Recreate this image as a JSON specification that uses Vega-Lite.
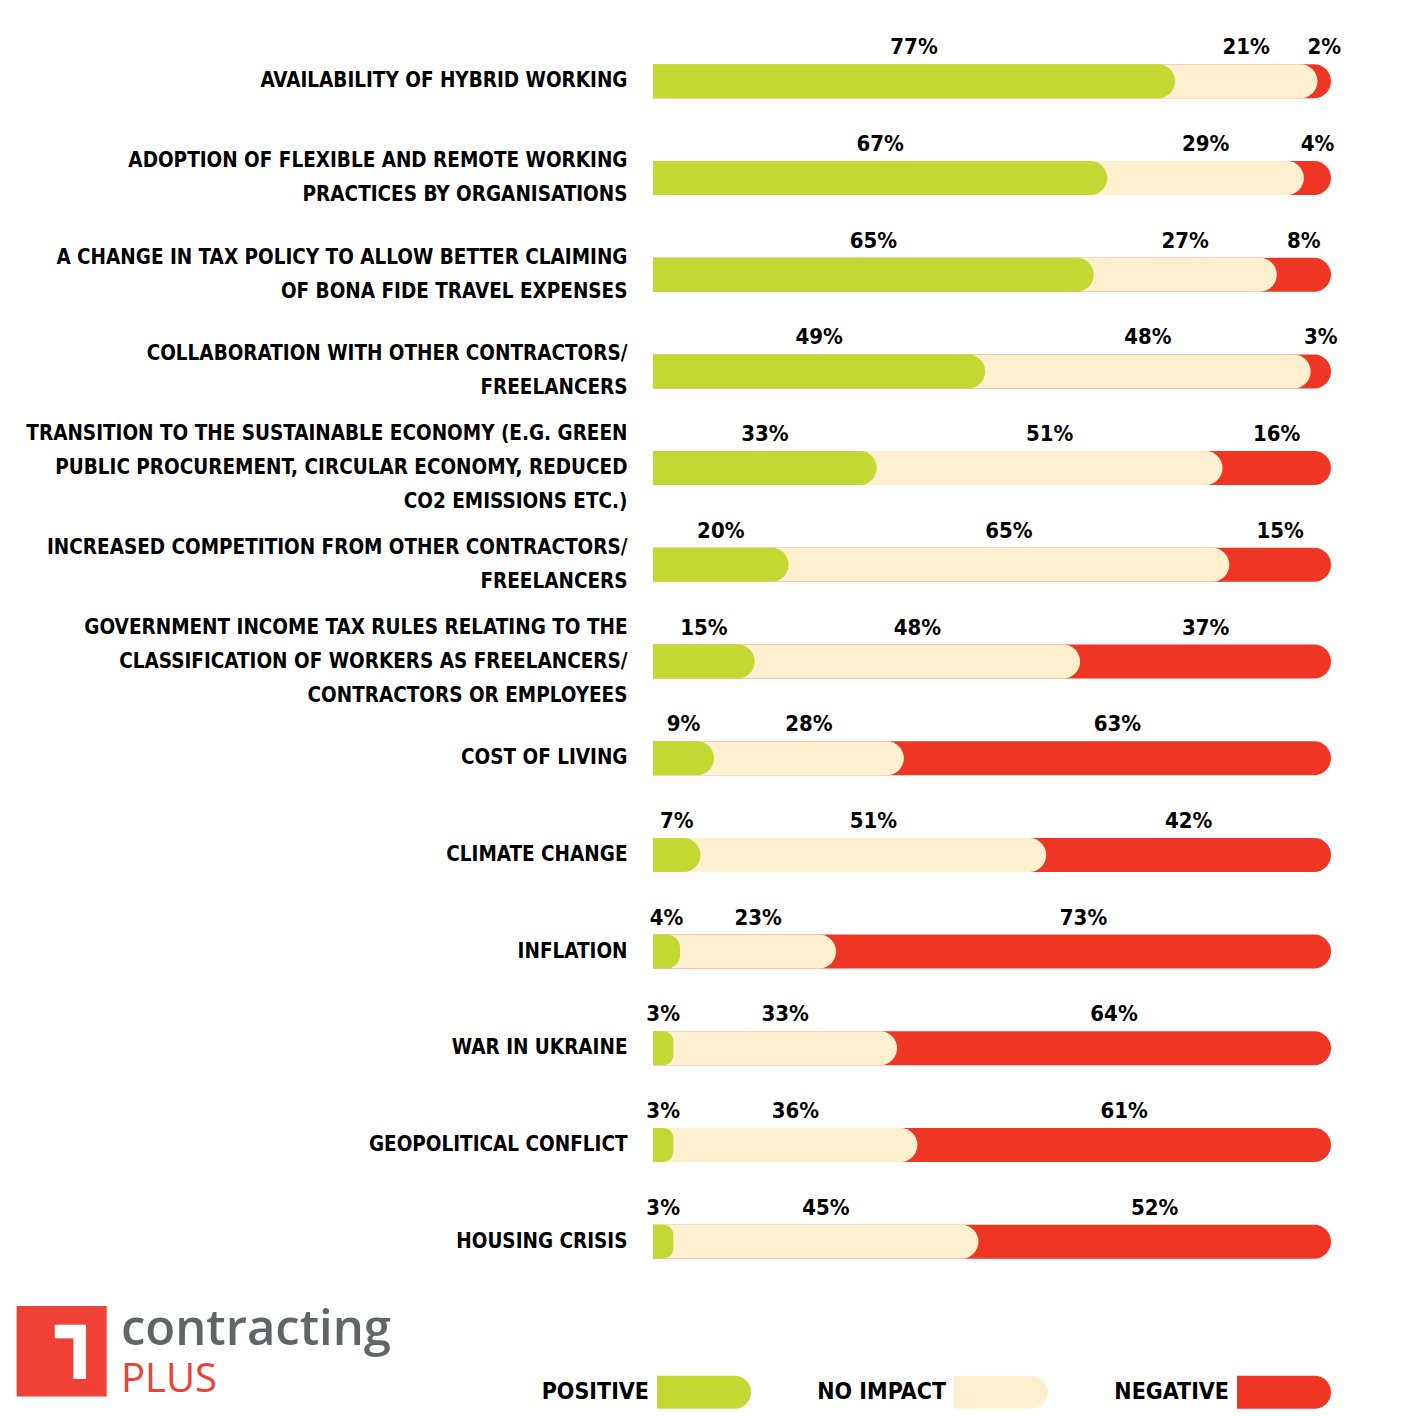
{
  "$schema": "https://vega.github.io/schema/vega-lite/v6.json",
  "width": 678,
  "height": 1257,
  "autosize": {"type": "none"},
  "padding": {"left": 653, "top": 33, "right": 94, "bottom": 126},
  "background": "white",
  "config": {"view": {"stroke": null}},
  "title": {
    "text": "contracting",
    "subtitle": "PLUS",
    "orient": "bottom",
    "anchor": "start",
    "frame": "group",
    "font": "Open Sans",
    "fontSize": 49,
    "fontWeight": 600,
    "color": "#5f6668",
    "subtitleFont": "Open Sans",
    "subtitleFontSize": 40,
    "subtitleColor": "#ee4136",
    "subtitlePadding": 5,
    "dx": -532,
    "dy": -103,
    "offset": 0
  },
  "data": {
    "values": [
      {"label": "AVAILABILITY OF HYBRID WORKING", "impact": "POSITIVE", "rank": 1, "pct": 77, "txt": "77%"},
      {"label": "AVAILABILITY OF HYBRID WORKING", "impact": "NO IMPACT", "rank": 2, "pct": 21, "txt": "21%"},
      {"label": "AVAILABILITY OF HYBRID WORKING", "impact": "NEGATIVE", "rank": 3, "pct": 2, "txt": "2%"},
      {"label": "ADOPTION OF FLEXIBLE AND REMOTE WORKING|PRACTICES BY ORGANISATIONS", "impact": "POSITIVE", "rank": 1, "pct": 67, "txt": "67%"},
      {"label": "ADOPTION OF FLEXIBLE AND REMOTE WORKING|PRACTICES BY ORGANISATIONS", "impact": "NO IMPACT", "rank": 2, "pct": 29, "txt": "29%"},
      {"label": "ADOPTION OF FLEXIBLE AND REMOTE WORKING|PRACTICES BY ORGANISATIONS", "impact": "NEGATIVE", "rank": 3, "pct": 4, "txt": "4%"},
      {"label": "A CHANGE IN TAX POLICY TO ALLOW BETTER CLAIMING|OF BONA FIDE TRAVEL EXPENSES", "impact": "POSITIVE", "rank": 1, "pct": 65, "txt": "65%"},
      {"label": "A CHANGE IN TAX POLICY TO ALLOW BETTER CLAIMING|OF BONA FIDE TRAVEL EXPENSES", "impact": "NO IMPACT", "rank": 2, "pct": 27, "txt": "27%"},
      {"label": "A CHANGE IN TAX POLICY TO ALLOW BETTER CLAIMING|OF BONA FIDE TRAVEL EXPENSES", "impact": "NEGATIVE", "rank": 3, "pct": 8, "txt": "8%"},
      {"label": "COLLABORATION WITH OTHER CONTRACTORS/|FREELANCERS", "impact": "POSITIVE", "rank": 1, "pct": 49, "txt": "49%"},
      {"label": "COLLABORATION WITH OTHER CONTRACTORS/|FREELANCERS", "impact": "NO IMPACT", "rank": 2, "pct": 48, "txt": "48%"},
      {"label": "COLLABORATION WITH OTHER CONTRACTORS/|FREELANCERS", "impact": "NEGATIVE", "rank": 3, "pct": 3, "txt": "3%"},
      {"label": "TRANSITION TO THE SUSTAINABLE ECONOMY (E.G. GREEN|PUBLIC PROCUREMENT, CIRCULAR ECONOMY, REDUCED|CO2 EMISSIONS ETC.)", "impact": "POSITIVE", "rank": 1, "pct": 33, "txt": "33%"},
      {"label": "TRANSITION TO THE SUSTAINABLE ECONOMY (E.G. GREEN|PUBLIC PROCUREMENT, CIRCULAR ECONOMY, REDUCED|CO2 EMISSIONS ETC.)", "impact": "NO IMPACT", "rank": 2, "pct": 51, "txt": "51%"},
      {"label": "TRANSITION TO THE SUSTAINABLE ECONOMY (E.G. GREEN|PUBLIC PROCUREMENT, CIRCULAR ECONOMY, REDUCED|CO2 EMISSIONS ETC.)", "impact": "NEGATIVE", "rank": 3, "pct": 16, "txt": "16%"},
      {"label": "INCREASED COMPETITION FROM OTHER CONTRACTORS/|FREELANCERS", "impact": "POSITIVE", "rank": 1, "pct": 20, "txt": "20%"},
      {"label": "INCREASED COMPETITION FROM OTHER CONTRACTORS/|FREELANCERS", "impact": "NO IMPACT", "rank": 2, "pct": 65, "txt": "65%"},
      {"label": "INCREASED COMPETITION FROM OTHER CONTRACTORS/|FREELANCERS", "impact": "NEGATIVE", "rank": 3, "pct": 15, "txt": "15%"},
      {"label": "GOVERNMENT INCOME TAX RULES RELATING TO THE|CLASSIFICATION OF WORKERS AS FREELANCERS/|CONTRACTORS OR EMPLOYEES", "impact": "POSITIVE", "rank": 1, "pct": 15, "txt": "15%"},
      {"label": "GOVERNMENT INCOME TAX RULES RELATING TO THE|CLASSIFICATION OF WORKERS AS FREELANCERS/|CONTRACTORS OR EMPLOYEES", "impact": "NO IMPACT", "rank": 2, "pct": 48, "txt": "48%"},
      {"label": "GOVERNMENT INCOME TAX RULES RELATING TO THE|CLASSIFICATION OF WORKERS AS FREELANCERS/|CONTRACTORS OR EMPLOYEES", "impact": "NEGATIVE", "rank": 3, "pct": 37, "txt": "37%"},
      {"label": "COST OF LIVING", "impact": "POSITIVE", "rank": 1, "pct": 9, "txt": "9%"},
      {"label": "COST OF LIVING", "impact": "NO IMPACT", "rank": 2, "pct": 28, "txt": "28%"},
      {"label": "COST OF LIVING", "impact": "NEGATIVE", "rank": 3, "pct": 63, "txt": "63%"},
      {"label": "CLIMATE CHANGE", "impact": "POSITIVE", "rank": 1, "pct": 7, "txt": "7%"},
      {"label": "CLIMATE CHANGE", "impact": "NO IMPACT", "rank": 2, "pct": 51, "txt": "51%"},
      {"label": "CLIMATE CHANGE", "impact": "NEGATIVE", "rank": 3, "pct": 42, "txt": "42%"},
      {"label": "INFLATION", "impact": "POSITIVE", "rank": 1, "pct": 4, "txt": "4%"},
      {"label": "INFLATION", "impact": "NO IMPACT", "rank": 2, "pct": 23, "txt": "23%"},
      {"label": "INFLATION", "impact": "NEGATIVE", "rank": 3, "pct": 73, "txt": "73%"},
      {"label": "WAR IN UKRAINE", "impact": "POSITIVE", "rank": 1, "pct": 3, "txt": "3%"},
      {"label": "WAR IN UKRAINE", "impact": "NO IMPACT", "rank": 2, "pct": 33, "txt": "33%"},
      {"label": "WAR IN UKRAINE", "impact": "NEGATIVE", "rank": 3, "pct": 64, "txt": "64%"},
      {"label": "GEOPOLITICAL CONFLICT", "impact": "POSITIVE", "rank": 1, "pct": 3, "txt": "3%"},
      {"label": "GEOPOLITICAL CONFLICT", "impact": "NO IMPACT", "rank": 2, "pct": 36, "txt": "36%"},
      {"label": "GEOPOLITICAL CONFLICT", "impact": "NEGATIVE", "rank": 3, "pct": 61, "txt": "61%"},
      {"label": "HOUSING CRISIS", "impact": "POSITIVE", "rank": 1, "pct": 3, "txt": "3%"},
      {"label": "HOUSING CRISIS", "impact": "NO IMPACT", "rank": 2, "pct": 45, "txt": "45%"},
      {"label": "HOUSING CRISIS", "impact": "NEGATIVE", "rank": 3, "pct": 52, "txt": "52%"}
    ]
  },
  "layer": [
    {
      "transform": [
        {"stack": "pct", "groupby": ["label"], "sort": [{"field": "rank", "order": "ascending"}], "as": ["v0", "v1"]}
      ],
      "mark": {"type": "bar", "height": 34, "cornerRadiusTopRight": 17, "cornerRadiusBottomRight": 17},
      "encoding": {
        "y": {
          "field": "label",
          "type": "nominal",
          "sort": null,
          "axis": {
            "title": "┓",
            "titleFont": "DejaVu Sans",
            "titleFontSize": 80,
            "titleFontWeight": "bold",
            "titleColor": "white",
            "titleAngle": 0,
            "titleAlign": "center",
            "titleBaseline": "middle",
            "titleX": -574,
            "titleY": 1301,
            "domain": false,
            "ticks": false,
            "grid": false,
            "labelExpr": "split(datum.label, '|')",
            "labelFont": "DejaVu Sans Condensed",
            "labelFontSize": 20.5,
            "labelFontWeight": "bold",
            "labelColor": "black",
            "labelPadding": 26,
            "labelLineHeight": 34,
            "labelLimit": 700,
            "labelOffset": {
              "condition": [
                {"test": "indexof(datum.value, '|') < 0", "value": 0},
                {"test": "length(split(datum.value, '|')) == 2", "value": -17}
              ],
              "value": -34
            }
          }
        },
        "x": {
          "field": "v1",
          "type": "quantitative",
          "stack": null,
          "scale": {"domain": [0, 100], "nice": false},
          "axis": {
            "labels": false,
            "ticks": false,
            "domain": false,
            "grid": false,
            "title": "■",
            "titleFont": "DejaVu Sans",
            "titleFontSize": 118,
            "titleFontWeight": "normal",
            "titleColor": "#ef4136",
            "titleAlign": "center",
            "titleBaseline": "middle",
            "titleX": -592,
            "titleY": 56
          }
        },
        "color": {
          "field": "impact",
          "type": "nominal",
          "scale": {"domain": ["POSITIVE", "NO IMPACT", "NEGATIVE"], "range": ["#c2d833", "#feefcf", "#ef3524"]},
          "legend": {
            "orient": "none",
            "legendX": 4,
            "legendY": 1312,
            "direction": "horizontal",
            "title": null,
            "symbolType": "M-1,-0.351H0.649A0.351,0.351 0 0 1 0.649,0.351H-1Z",
            "symbolSize": 8836,
            "symbolStrokeWidth": 0,
            "symbolOpacity": 1,
            "labelFont": "DejaVu Sans Condensed",
            "labelFontSize": 23,
            "labelFontWeight": "bold",
            "labelColor": "black",
            "labelAlign": "right",
            "labelOffset": -102,
            "columnPadding": 66,
            "labelLimit": 300
          }
        },
        "order": {"field": "rank", "sort": "descending"}
      }
    },
    {
      "mark": {"type": "text", "dy": -34, "fontSize": 22, "fontWeight": "bold", "font": "DejaVu Sans Condensed", "color": "black", "baseline": "middle"},
      "encoding": {
        "y": {"field": "label", "type": "nominal", "sort": null},
        "x": {"field": "pct", "type": "quantitative", "stack": "zero", "bandPosition": 0.5},
        "detail": {"field": "impact"},
        "order": {"field": "rank", "sort": "ascending"},
        "text": {"field": "txt"}
      }
    }
  ]
}
